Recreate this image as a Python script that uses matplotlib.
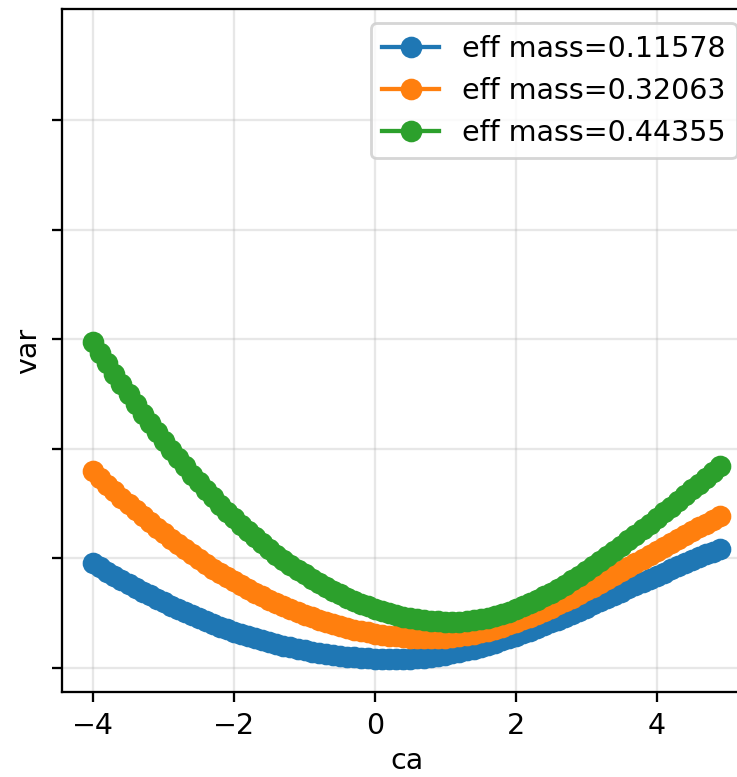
import numpy as np
import matplotlib
matplotlib.use("Agg")
import matplotlib.pyplot as plt

# x grid (ca) from -4.0 to 4.9 in steps of 0.1
ca = np.round(np.arange(-40, 50) / 10, 1)

labels = ["eff mass=0.11578", "eff mass=0.32063", "eff mass=0.44355"]

# values (y axis in tick units, ticks unlabeled)
var_1 = [0.958, 0.918, 0.878, 0.840, 0.802, 0.766, 0.730, 0.696, 0.662, 0.629,
         0.597, 0.566, 0.536, 0.508, 0.479, 0.452, 0.426, 0.401, 0.377, 0.354,
         0.331, 0.310, 0.289, 0.270, 0.251, 0.234, 0.217, 0.202, 0.187, 0.173,
         0.160, 0.148, 0.137, 0.128, 0.118, 0.110, 0.103, 0.097, 0.092, 0.088,
         0.084, 0.082, 0.080, 0.080,
         0.080, 0.084, 0.088, 0.094, 0.101, 0.110, 0.120, 0.132, 0.145, 0.161,
         0.175, 0.192, 0.210, 0.230, 0.250, 0.271, 0.293, 0.316, 0.339, 0.364,
         0.388, 0.415, 0.441, 0.468, 0.496, 0.523, 0.551, 0.579, 0.608, 0.638,
         0.666, 0.695, 0.725, 0.754, 0.783, 0.813, 0.841, 0.870, 0.898, 0.926,
         0.954, 0.982, 1.008, 1.035, 1.060, 1.085]

var_2 = [1.798, 1.735, 1.673, 1.613, 1.554, 1.496, 1.440, 1.385, 1.331, 1.278,
         1.227, 1.178, 1.129, 1.082, 1.036, 0.992, 0.949, 0.907, 0.867, 0.828,
         0.790, 0.753, 0.718, 0.684, 0.652, 0.621, 0.591, 0.562, 0.535, 0.509,
         0.485, 0.462, 0.440, 0.419, 0.400, 0.382, 0.365, 0.350, 0.336, 0.324,
         0.312, 0.302, 0.294, 0.287, 0.281, 0.276, 0.273, 0.271, 0.270,
         0.272, 0.275, 0.280, 0.289, 0.299, 0.310, 0.323, 0.339, 0.357, 0.376,
         0.396, 0.418, 0.442, 0.467, 0.494, 0.522, 0.550, 0.580, 0.610, 0.642,
         0.674, 0.708, 0.742, 0.777, 0.811, 0.847, 0.883, 0.920, 0.957, 0.993,
         1.029, 1.066, 1.103, 1.139, 1.176, 1.212, 1.248, 1.282, 1.317, 1.351,
         1.385]

var_3 = [2.974, 2.875, 2.778, 2.683, 2.589, 2.498, 2.409, 2.321, 2.236, 2.152,
         2.071, 1.991, 1.914, 1.838, 1.764, 1.693, 1.623, 1.555, 1.489, 1.426,
         1.364, 1.304, 1.246, 1.190, 1.136, 1.084, 1.034, 0.986, 0.939, 0.895,
         0.853, 0.813, 0.775, 0.738, 0.704, 0.671, 0.641, 0.612, 0.586, 0.561,
         0.539, 0.518, 0.500, 0.483, 0.468, 0.455, 0.445, 0.436, 0.429, 0.424,
         0.421, 0.420,
         0.422, 0.426, 0.434, 0.445, 0.458, 0.473, 0.492, 0.514, 0.538, 0.563,
         0.591, 0.621, 0.654, 0.687, 0.724, 0.761, 0.801, 0.842, 0.885, 0.928,
         0.973, 1.019, 1.066, 1.115, 1.164, 1.214, 1.264, 1.315, 1.367, 1.419,
         1.472, 1.524, 1.576, 1.629, 1.682, 1.734, 1.786, 1.838]

yticks = [0, 1, 2, 3, 4, 5]

fig = plt.figure(figsize=(737 / 205, 777 / 205), dpi=205)
ax = fig.add_axes([62 / 737, 85 / 777, 0.9353, 683 / 777])

for vals, lab in zip([var_1, var_2, var_3], labels):
    ax.plot(ca, vals, marker='o', markersize=6.6, label=lab)

ax.set_xlim(-4.445, 5.345)
ax.set_ylim(-0.22, 6.013)
ax.set_yticks(yticks)
ax.set_yticklabels([])
ax.grid(alpha=0.3)
ax.set_xlabel('ca', labelpad=2.5)
ax.set_ylabel('var', labelpad=0)
ax.legend(loc='upper right')

fig.savefig('out.png', dpi=205)
